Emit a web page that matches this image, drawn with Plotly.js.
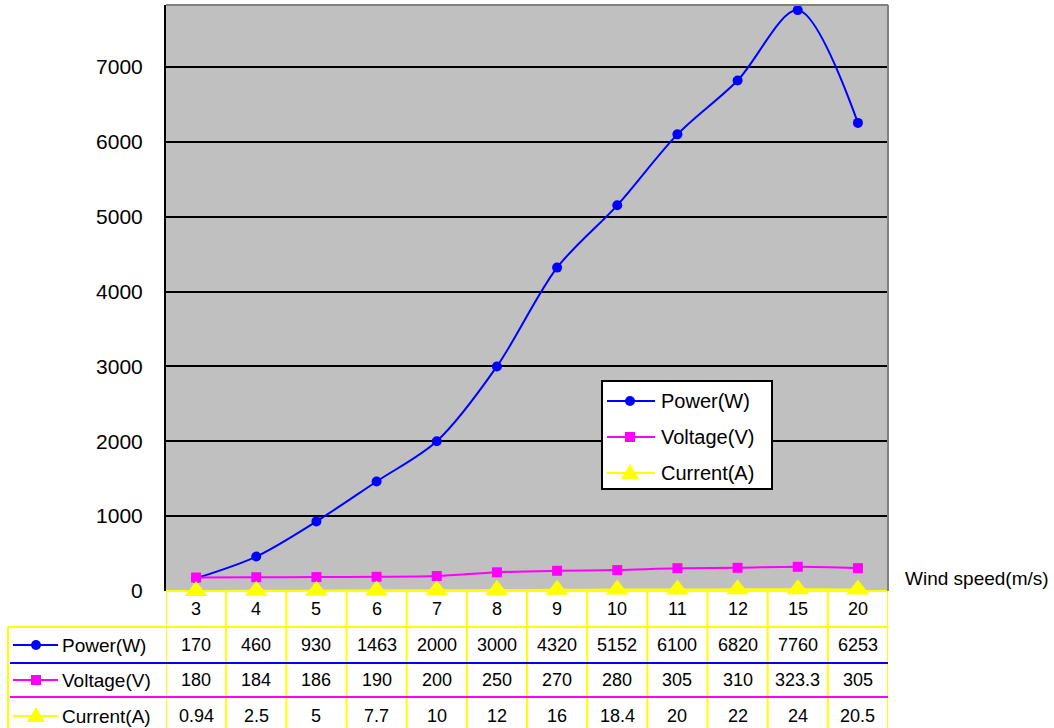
<!DOCTYPE html>
<html>
<head>
<meta charset="utf-8">
<script src="https://cdn.plot.ly/plotly-3.0.1.min.js"></script>
<style>
html,body{margin:0;padding:0;background:#fff;}
#chart{width:1054px;height:728px;}
</style>
</head>
<body>
<div id="chart"></div>
<script>
// ---- data ----
const categories = ['3','4','5','6','7','8','9','10','11','12','15','20'];
const power   = [170, 460, 930, 1463, 2000, 3000, 4320, 5152, 6100, 6820, 7760, 6253];
const voltage = [180, 184, 186, 190, 200, 250, 270, 280, 305, 310, 323.3, 305];
const current = [0.94, 2.5, 5, 7.7, 10, 12, 16, 18.4, 20, 22, 24, 20.5];
const seriesNames = ['Power(W)', 'Voltage(V)', 'Current(A)'];
const yTickVals = [0, 1000, 2000, 3000, 4000, 5000, 6000, 7000];
const xAxisLabel = 'Wind speed(m/s)';

// ---- layout geometry (pixels) ----
const W = 1054, H = 728;
const L = 166, R = 888, T = 5, B = 591;
const PW = R - L, PH = B - T;
const px = p => (p - L) / PW;       // pixel x -> paper
const py = p => (B - p) / PH;       // pixel y -> paper

const colors = ['#0000FF', '#FF00FF', '#FFFF00'];
const symbols = ['circle', 'square', 'triangle-up'];
const sizes = [10, 10, 20];
const seriesData = [power, voltage, current];
const FONT = 'Liberation Sans, Arial, sans-serif';

const traces = seriesData.map((vals, i) => ({
  type: 'scatter', mode: 'lines+markers',
  x: categories, y: vals, name: seriesNames[i],
  line: {color: colors[i], width: 2, shape: 'spline', smoothing: 0.9},
  marker: {color: colors[i], symbol: symbols[i], size: sizes[i], line: {width: 0}},
  cliponaxis: false, showlegend: false
}));

const shapes = [];
const annotations = [];

function keyMarker(sym, cx, cy, color) {
  if (sym === 'circle') {
    return {type:'circle', xref:'paper', yref:'paper', x0:px(cx-5), x1:px(cx+5), y0:py(cy+5), y1:py(cy-5),
      fillcolor:color, line:{color:color, width:0}, layer:'above'};
  } else if (sym === 'square') {
    return {type:'rect', xref:'paper', yref:'paper', x0:px(cx-5), x1:px(cx+5), y0:py(cy+5), y1:py(cy-5),
      fillcolor:color, line:{color:color, width:0}, layer:'above'};
  }
  return {type:'path', xref:'paper', yref:'paper',
    path:`M ${px(cx-9)} ${py(cy+6)} L ${px(cx+9)} ${py(cy+6)} L ${px(cx)} ${py(cy-9)} Z`,
    fillcolor:color, line:{color:color, width:0}, layer:'above'};
}

// plot frame: gray top/right
shapes.push({type:'line', xref:'paper', yref:'paper', x0:0, x1:1, y0:1, y1:1, line:{color:'#808080', width:2}});
shapes.push({type:'line', xref:'paper', yref:'paper', x0:1, x1:1, y0:0, y1:1, line:{color:'#808080', width:2}});

// ---- table ----
const rowHeader = 609;
const rowCenters = [645, 680, 716];
const YEL = '#FFFF00';
shapes.push({type:'line', xref:'paper', yref:'paper', x0:0, x1:1, y0:py(591), y1:py(591), line:{color:YEL, width:2}, layer:'below'});
shapes.push({type:'line', xref:'paper', yref:'paper', x0:px(8), x1:1, y0:py(627), y1:py(627), line:{color:YEL, width:2}});
shapes.push({type:'line', xref:'paper', yref:'paper', x0:px(8), x1:px(8), y0:py(627), y1:py(740), line:{color:YEL, width:2}});
for (let k = 0; k <= categories.length; k++) {
  shapes.push({type:'line', xref:'x', yref:'paper', x0:k - 0.5, x1:k - 0.5, y0:py(591), y1:py(740), line:{color:YEL, width:2}});
}
shapes.push({type:'line', xref:'paper', yref:'paper', x0:px(10), x1:1, y0:py(663), y1:py(663), line:{color:colors[0], width:2}});
shapes.push({type:'line', xref:'paper', yref:'paper', x0:px(10), x1:1, y0:py(697), y1:py(697), line:{color:colors[1], width:2}});

categories.forEach((c, j) => {
  annotations.push({xref:'x', yref:'paper', x:j, y:py(rowHeader), text:c, showarrow:false,
    xanchor:'center', yanchor:'middle', font:{family:FONT, size:18, color:'#000'}});
});

seriesData.forEach((vals, i) => {
  const yc = rowCenters[i];
  vals.forEach((v, j) => {
    annotations.push({xref:'x', yref:'paper', x:j, y:py(yc), text:String(v), showarrow:false,
      xanchor:'center', yanchor:'middle', font:{family:FONT, size:18, color:'#000'}});
  });
  annotations.push({xref:'paper', yref:'paper', x:px(60), y:py(yc), text:seriesNames[i], showarrow:false,
    xanchor:'left', yanchor:'middle', font:{family:FONT, size:19, color:'#000'}});
  shapes.push({type:'line', xref:'paper', yref:'paper', x0:px(13), x1:px(58), y0:py(yc), y1:py(yc), line:{color:colors[i], width:2}});
  shapes.push(keyMarker(symbols[i], 36, yc, colors[i]));
});

// ---- legend box (drawn) ----
shapes.push({type:'rect', xref:'paper', yref:'paper', x0:px(602), x1:px(772), y0:py(489), y1:py(381),
  fillcolor:'#FFFFFF', line:{color:'#000000', width:2}, layer:'above'});
const legRows = [401, 437, 473];
seriesNames.forEach((n, i) => {
  const yc = legRows[i];
  shapes.push({type:'line', xref:'paper', yref:'paper', x0:px(607), x1:px(655), y0:py(yc), y1:py(yc),
    line:{color:colors[i], width:2}, layer:'above'});
  shapes.push(keyMarker(symbols[i], 630, yc, colors[i]));
  annotations.push({xref:'paper', yref:'paper', x:px(659), y:py(yc), text:n, showarrow:false,
    xanchor:'left', yanchor:'middle', font:{family:FONT, size:20, color:'#000'}});
});

annotations.push({xref:'paper', yref:'paper', x:px(903), y:py(578), text:xAxisLabel, showarrow:false,
  xanchor:'left', yanchor:'middle', font:{family:FONT, size:19, color:'#000'}});

const layout = {
  width: W, height: H,
  margin: {l: L, r: W - R, t: T, b: H - B, pad: 0},
  paper_bgcolor: '#FFFFFF',
  plot_bgcolor: '#C0C0C0',
  font: {family: FONT, size: 20, color: '#000'},
  showlegend: false,
  xaxis: {
    type: 'category', categoryorder: 'array', categoryarray: categories,
    range: [-0.5, categories.length - 0.5],
    showticklabels: false, showgrid: false, zeroline: false, showline: false, ticks: '',
    fixedrange: true
  },
  yaxis: {
    range: [0, PH / 74.86 * 1000],
    tickvals: yTickVals, ticktext: yTickVals.map(String),
    showgrid: true, gridcolor: '#000000', gridwidth: 2,
    zeroline: false, showline: true, linecolor: '#000000', linewidth: 2,
    ticks: '', ticklabelstandoff: 17,
    tickfont: {family: FONT, size: 21, color: '#000'},
    fixedrange: true
  },
  shapes: shapes,
  annotations: annotations
};

Plotly.newPlot('chart', traces, layout, {displayModeBar: false, staticPlot: true});
</script>
</body>
</html>
